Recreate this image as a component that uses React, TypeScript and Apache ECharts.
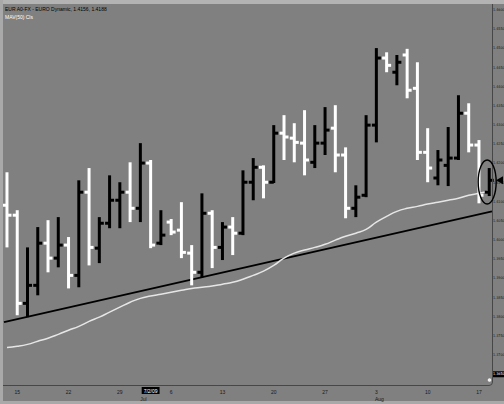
import React, { useEffect, useRef } from 'react';
import * as echarts from 'echarts';

const dates = [
  '2009-06-12', '2009-06-15', '2009-06-16', '2009-06-17', '2009-06-18', '2009-06-19',
  '2009-06-22', '2009-06-23', '2009-06-24', '2009-06-25', '2009-06-26',
  '2009-06-29', '2009-06-30', '2009-07-01', '2009-07-02', '2009-07-03',
  '2009-07-06', '2009-07-07', '2009-07-08', '2009-07-09', '2009-07-10',
  '2009-07-13', '2009-07-14', '2009-07-15', '2009-07-16', '2009-07-17',
  '2009-07-20', '2009-07-21', '2009-07-22', '2009-07-23', '2009-07-24',
  '2009-07-27', '2009-07-28', '2009-07-29', '2009-07-30', '2009-07-31',
  '2009-08-03', '2009-08-04', '2009-08-05', '2009-08-06', '2009-08-07',
  '2009-08-10', '2009-08-11', '2009-08-12', '2009-08-13', '2009-08-14',
  '2009-08-17', '2009-08-18',
];
const opens = [1.4091, 1.4065, 1.3835, 1.3882, 1.3992, 1.3953, 1.3987, 1.3908, 1.4125, 1.3979, 1.4044, 1.4104, 1.4125, 1.4083, 1.4201, 1.3992, 1.4047, 1.4026, 1.3966, 1.3916, 1.4070, 1.3981, 1.4034, 1.4018, 1.4151, 1.4190, 1.4151, 1.4279, 1.4266, 1.4253, 1.4203, 1.4253, 1.4292, 1.4222, 1.4083, 1.4117, 1.4300, 1.4475, 1.4438, 1.4483, 1.4396, 1.4229, 1.4162, 1.4195, 1.4214, 1.4331, 1.4248, 1.4125];
const highs = [1.4177, 1.4078, 1.3981, 1.4034, 1.4052, 1.4060, 1.4008, 1.4156, 1.4188, 1.4060, 1.4169, 1.4151, 1.4203, 1.4253, 1.4209, 1.4078, 1.4055, 1.4099, 1.3987, 1.4122, 1.4078, 1.4047, 1.4060, 1.4182, 1.4214, 1.4195, 1.4300, 1.4326, 1.4305, 1.4339, 1.4300, 1.4347, 1.4352, 1.4242, 1.4143, 1.4326, 1.4501, 1.4490, 1.4483, 1.4499, 1.4464, 1.4292, 1.4235, 1.4295, 1.4378, 1.4357, 1.4261, 1.4188];
const lows = [1.3981, 1.3804, 1.3799, 1.3856, 1.3916, 1.3929, 1.3874, 1.3877, 1.3934, 1.3940, 1.4031, 1.4031, 1.4047, 1.4047, 1.3979, 1.3987, 1.4013, 1.3953, 1.3882, 1.3903, 1.3927, 1.3948, 1.3961, 1.4013, 1.4104, 1.4109, 1.4149, 1.4209, 1.4203, 1.4169, 1.4188, 1.4222, 1.4177, 1.4057, 1.4060, 1.4112, 1.4255, 1.4438, 1.4404, 1.4370, 1.4209, 1.4151, 1.4143, 1.4141, 1.4209, 1.4229, 1.4096, 1.4115];
const closes = [1.4065, 1.3835, 1.3882, 1.3992, 1.3953, 1.3987, 1.3908, 1.4125, 1.3981, 1.4044, 1.4104, 1.4125, 1.4083, 1.4201, 1.3987, 1.4013, 1.4021, 1.3968, 1.3916, 1.4070, 1.3981, 1.4034, 1.4018, 1.4151, 1.4190, 1.4151, 1.4279, 1.4269, 1.4255, 1.4209, 1.4253, 1.4287, 1.4222, 1.4083, 1.4112, 1.4300, 1.4475, 1.4456, 1.4464, 1.4391, 1.4229, 1.4188, 1.4209, 1.4214, 1.4331, 1.4248, 1.4117, 1.4156];
const ma50 = [1.3720, 1.3723, 1.3728, 1.3736, 1.3744, 1.3754, 1.3765, 1.3775, 1.3788, 1.3799, 1.3812, 1.3825, 1.3838, 1.3848, 1.3854, 1.3859, 1.3864, 1.3869, 1.3874, 1.3877, 1.3880, 1.3885, 1.3890, 1.3898, 1.3908, 1.3919, 1.3934, 1.3953, 1.3966, 1.3974, 1.3981, 1.3989, 1.4000, 1.4010, 1.4018, 1.4028, 1.4047, 1.4062, 1.4075, 1.4083, 1.4088, 1.4094, 1.4099, 1.4104, 1.4109, 1.4117, 1.4122, 1.4128];
const trendIdx = [-0.29, 47.27];
const trendVal = [1.3786, 1.4075];
const yTicks = [1.365, 1.37, 1.375, 1.38, 1.385, 1.39, 1.395, 1.4, 1.405, 1.41, 1.415, 1.42, 1.425, 1.43, 1.435, 1.44, 1.445, 1.45, 1.455, 1.46];
const highlightedPrice = 1.365;
const highlightedDateIndex = 14;
const titleLine = 'EUR A0-FX - EURO Dynamic, 1.4156, 1.4188';
const studyLine = 'MAV(50) Cls';

const FONT = '"Liberation Sans", Arial, sans-serif';
const NARROW = '"Liberation Sans Narrow", "DejaVu Sans Condensed", Arial, sans-serif';

function parseDate(s: string) {
  const [y, m, d] = s.split('-').map(Number);
  return { y, m, d, dow: new Date(Date.UTC(y, m - 1, d)).getUTCDay() };
}

export default function App() {
  const ref = useRef<HTMLDivElement>(null);
  useEffect(() => {
    if (!ref.current) return;
    const chart = echarts.init(ref.current, null, { renderer: 'svg' });
    const parsed = dates.map(parseDate);
    const mondayIdx = parsed.map((p, i) => (p.dow === 1 ? i : -1)).filter((i) => i >= 0);
    const monthStarts = parsed
      .map((p, i) => (i > 0 && p.m !== parsed[i - 1].m ? i : -1))
      .filter((i) => i >= 0);
    const monthNames = ['Jan', 'Feb', 'Mar', 'Apr', 'May', 'Jun', 'Jul', 'Aug', 'Sep', 'Oct', 'Nov', 'Dec'];
    const ohlc = dates.map((_, i) => [i, opens[i], highs[i], lows[i], closes[i]]);

    chart.setOption({
      animation: false,
      backgroundColor: '#808080',
      grid: { left: 4, right: 12, top: 4, bottom: 19, containLabel: false, outerBoundsMode: 'none' },
      xAxis: {
        type: 'value',
        min: -0.29,
        max: 47.27,
        axisLine: { show: false },
        axisTick: { show: false },
        splitLine: { show: false },
        axisLabel: {
          customValues: mondayIdx,
          formatter: (v: number) => String(parsed[Math.round(v)].d),
          fontSize: 5,
          color: '#1a1a1a',
          fontFamily: FONT,
          margin: 4,
        },
      },
      yAxis: {
        type: 'value',
        position: 'right',
        min: 1.3622,
        max: 1.4616,
        axisLine: { show: false },
        axisTick: { show: false },
        splitLine: { show: false },
        axisLabel: {
          customValues: yTicks,
          margin: 1,
          fontSize: 3.7,
          color: '#1a1a1a',
          fontFamily: NARROW,
          formatter: (v: number) =>
            Math.abs(v - highlightedPrice) < 1e-6 ? `{hl|${v.toFixed(4)}}` : v.toFixed(4),
          rich: {
            hl: { backgroundColor: '#000', color: '#fff', fontSize: 3.7, padding: [1, 0], fontFamily: NARROW },
          },
        },
      },
      series: [
        {
          type: 'line',
          data: trendIdx.map((x, i) => [x, trendVal[i]]),
          symbol: 'none',
          lineStyle: { color: '#000', width: 2 },
          z: 2,
        },
        {
          type: 'line',
          data: ma50.map((v, i) => [i, v]),
          symbol: 'none',
          smooth: true,
          lineStyle: { color: '#e6e6e6', width: 1.5 },
          z: 2,
        },
        {
          type: 'custom',
          data: ohlc,
          encode: { x: 0, y: [1, 2, 3, 4] },
          z: 3,
          clip: false,
          renderItem: (params: any, api: any) => {
            const x = api.value(0);
            const o = api.value(1);
            const h = api.value(2);
            const l = api.value(3);
            const c = api.value(4);
            const pH = api.coord([x, h]);
            const pL = api.coord([x, l]);
            const pO = api.coord([x, o]);
            const pC = api.coord([x, c]);
            const color = c >= o ? '#000' : '#fff';
            const style = { stroke: color, lineWidth: 3 };
            return {
              type: 'group',
              children: [
                { type: 'line', shape: { x1: pH[0], y1: pH[1], x2: pL[0], y2: pL[1] }, style },
                { type: 'line', shape: { x1: pO[0] - 4.5, y1: pO[1], x2: pO[0], y2: pO[1] }, style: { stroke: color, lineWidth: 3 } },
                { type: 'line', shape: { x1: pC[0], y1: pC[1], x2: pC[0] + 4.5, y2: pC[1] }, style: { stroke: color, lineWidth: 3 } },
              ],
            };
          },
        },
      ],
    });

    const last = dates.length - 1;
    const pHi = chart.convertToPixel({ gridIndex: 0 }, [last, highs[last]]) as number[];
    const pLo = chart.convertToPixel({ gridIndex: 0 }, [last, lows[last]]) as number[];
    const ellC = chart.convertToPixel({ gridIndex: 0 }, [last - 0.2, (highs[last] + lows[last]) / 2]) as number[];
    const pClose = chart.convertToPixel({ gridIndex: 0 }, [last, closes[last]]) as number[];
    const dBox = chart.convertToPixel({ gridIndex: 0 }, [highlightedDateIndex, 1.4]) as number[];
    const hd = parsed[highlightedDateIndex];

    const graphics: any[] = [
      { type: 'rect', shape: { x: 0, y: 0, width: 504, height: 4 }, style: { fill: '#b3b3b3' }, z: 10 },
      { type: 'rect', shape: { x: 0, y: 0, width: 3, height: 404 }, style: { fill: '#a9a9a9' }, z: 10 },
      { type: 'rect', shape: { x: 0, y: 401, width: 504, height: 3 }, style: { fill: '#a9a9a9' }, z: 10 },
      { type: 'line', shape: { x1: 492.5, y1: 4, x2: 492.5, y2: 382 }, style: { stroke: '#474747', lineWidth: 1 }, z: 10 },
      { type: 'line', shape: { x1: 3, y1: 385.5, x2: 489, y2: 385.5 }, style: { stroke: '#474747', lineWidth: 1 }, z: 10 },
      { type: 'arc', shape: { cx: 489, cy: 382, r: 3.5, startAngle: 0, endAngle: Math.PI / 2 }, style: { stroke: '#474747', lineWidth: 1, fill: 'none' }, z: 10 },
      { type: 'circle', shape: { cx: 489.5, cy: 380, r: 1.8 }, style: { fill: '#f0f0f0' }, z: 10 },
      { type: 'text', x: 5, y: 6, style: { text: titleLine, fontSize: 5, fill: '#000', fontFamily: FONT }, z: 10 },
      { type: 'text', x: 5, y: 14, style: { text: studyLine, fontSize: 5, fill: '#fff', fontFamily: FONT }, z: 10 },
      {
        type: 'ellipse',
        shape: { cx: ellC[0], cy: ellC[1], rx: 9, ry: (pLo[1] - pHi[1]) / 2 + 8 },
        style: { stroke: '#000', lineWidth: 1.4, fill: 'none' },
        z: 10,
      },
      {
        type: 'polygon',
        shape: { points: [[496, pClose[1]], [503, pClose[1] - 4], [503, pClose[1] + 4]] },
        style: { fill: '#000' },
        z: 10,
      },
      {
        type: 'text',
        x: dBox[0],
        y: 390.5,
        style: {
          text: `${hd.m}/${hd.d}/${String(hd.y).slice(2)}`,
          fontSize: 5,
          fill: '#fff',
          backgroundColor: '#000',
          padding: [1, 2],
          align: 'center',
          verticalAlign: 'middle',
          fontFamily: FONT,
        },
        z: 11,
      },
    ];
    monthStarts.forEach((idx) => {
      const p = chart.convertToPixel({ gridIndex: 0 }, [idx + 0.3, 1.4]) as number[];
      graphics.push({
        type: 'text',
        x: p[0],
        y: 398.5,
        style: {
          text: monthNames[parsed[idx].m - 1],
          fontSize: 5,
          fill: '#1a1a1a',
          align: 'center',
          verticalAlign: 'middle',
          fontFamily: FONT,
        },
        z: 10,
      });
    });
    chart.setOption({ graphic: graphics });

    return () => chart.dispose();
  }, []);

  return (
    <div
      ref={ref}
      style={{ position: 'fixed', left: 0, top: 0, width: 504, height: 404 }}
    />
  );
}
